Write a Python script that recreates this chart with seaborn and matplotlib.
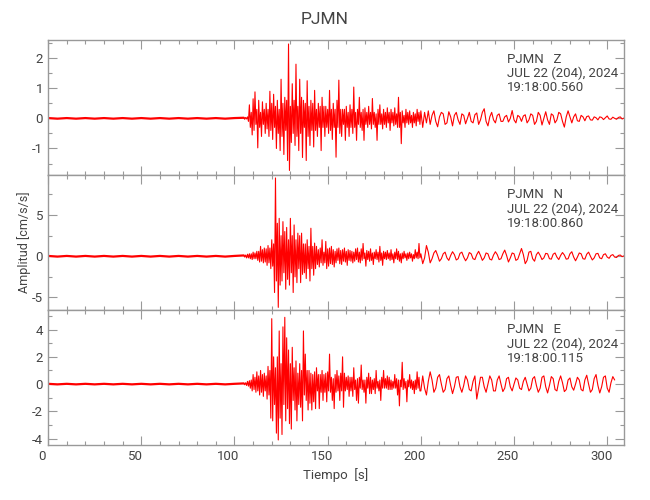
import numpy as np
import seaborn as sns
import matplotlib.pyplot as plt
from matplotlib.ticker import MultipleLocator
from matplotlib.transforms import ScaledTranslation

# Station / header text
station = "PJMN"
components = ["Z", "N", "E"]
fecha = "JUL 22 (204), 2024"
horas = ["19:18:00.560", "19:18:00.860", "19:18:00.115"]

# pre-event noise, one value every 5 s from t=0 to t=105
z_noise = [0.01, -0.01, 0.01, -0.01, 0.01, -0.01, 0.01, -0.01, 0.01, -0.01, 0.01,
           -0.01, 0.01, -0.01, 0.01, -0.01, 0.01, -0.01, 0.01, -0.01, 0.01, 0.02]
n_noise = [0.04, -0.04, 0.04, -0.04, 0.04, -0.04, 0.04, -0.04, 0.04, -0.04, 0.04,
           -0.04, 0.04, -0.04, 0.04, -0.04, 0.04, -0.04, 0.04, -0.04, 0.04, 0.1]
e_noise = [0.02, -0.02, 0.02, -0.02, 0.02, -0.02, 0.02, -0.02, 0.02, -0.02, 0.02,
           -0.02, 0.02, -0.02, 0.02, -0.02, 0.02, -0.02, 0.02, -0.02, 0.02, 0.05]

# strong motion, one value every 0.5 s from t=105 to t=199.5
z_strong = [0.02, -0.03, 0.03, -0.02, 0.05, -0.1,
            0.45, -0.3, 0.2, -0.55, 0.65, -0.4, 0.88, -0.2, 0.3, -0.98,
            0.6, -0.3, 0.2, -0.6, 0.55, -0.2, 0.3, -0.5, 0.5, -0.35,
            0.3, -0.6, 0.9, -0.4, 0.5, -0.7, 0.8, -0.3, 0.4, -1.0,
            0.6, -0.5, 0.3, -1.07, 1.3, -0.6, 0.5, -1.2, 0.7, -0.4,
            0.6, -1.4, 2.47, -1.73, 0.4, -0.8, 1.15, -0.5, 0.6, -0.9,
            1.8, -0.6, 0.4, -1.07, 1.3, -0.5, 0.7, -1.3, 0.6, -0.3,
            0.5, -1.4, 1.25, -0.6, 0.4, -0.9, 0.6, -0.4, 0.5, -0.95,
            0.93, -0.4, 0.3, -0.6, 0.5, -0.3, 0.4, -1.07, 0.7, -0.3,
            0.4, -0.6, 0.4, -0.3, 0.3, -0.5, 0.93, -0.4, 0.3, -0.7,
            0.5, -0.3, 0.3, -1.29, 0.6, -0.3, 1.27, -0.5, 0.3, -0.6,
            0.3, -0.2, 0.3, -0.73, 0.4, -0.3, 0.2, -0.6, 0.45, -0.3,
            0.3, -0.5, 1.04, -0.3, 0.2, -0.73, 0.3, -0.2, 0.7, -0.3,
            0.2, -0.4, 0.3, -0.73, 0.35, -0.2, 0.2, -0.3, 0.4, -0.2,
            0.2, -0.35, 0.66, -0.2, 0.2, -0.3, 0.15, -0.73, 0.3, -0.2,
            0.45, -0.2, 0.15, -0.35, 0.3, -0.2, 0.2, -0.3, 0.35, -0.15,
            0.2, -0.4, 0.3, -0.15, 0.2, -0.25, 0.35, -0.2, 0.15, -0.3,
            0.7, -0.3, 0.2, -0.84, 0.25, -0.15, 0.1, -0.3, 0.3, -0.15,
            0.2, -0.2, 0.25, -0.15, 0.1, -0.3, 0.2, -0.15, 0.15, -0.25,
            0.3, -0.1, 0.2, -0.2]

n_strong = [0.1, -0.1, 0.15, -0.2, 0.25, -0.2,
            0.3, -0.3, 0.3, -0.4, 0.5, -0.3, 0.4, -0.3, 0.6, -0.5,
            0.6, -0.7, 1.2, -0.6, 0.8, -0.8, 1.0, -0.7, 0.9, -1.1,
            1.3, -0.8, 1.0, -1.5, 2.0, -1.2, 1.5, -4.4, 9.5, -3.0,
            4.0, -6.2, 4.6, -3.5, 2.5, -3.0, 4.2, -2.0, 3.0, -4.0,
            3.5, -2.8, 2.0, -3.5, 4.6, -2.0, 2.5, -4.4, 3.8, -2.5,
            2.0, -3.2, 2.8, -1.5, 2.5, -3.2, 2.8, -2.2, 1.5, -2.0,
            1.5, -2.7, 2.0, -1.5, 1.2, -3.0, 3.4, -1.5, 1.2, -2.3,
            1.6, -1.5, 1.2, -1.0, 0.8, -1.3, 1.0, -0.8, 2.0, -1.1,
            0.5, -0.8, 1.8, -1.5, 0.9, -1.2, 1.0, -0.9, 1.2, -1.0,
            0.8, -1.3, 0.6, -0.8, 0.9, -0.5, 1.0, -0.9, 0.7, -1.0,
            0.8, -0.6, 1.0, -0.7, 0.6, -1.1, 0.8, -0.5, 0.7, -0.6,
            0.6, -0.8, 0.5, -0.6, 0.9, -0.4, 1.0, -0.7, 0.5, -0.8,
            0.9, -0.5, 1.55, -0.3, 0.4, -1.2, 0.7, -0.4, 0.6, -0.6,
            0.9, -0.5, 0.4, -1.0, 0.5, -0.3, 0.8, -0.4, 0.5, -0.7,
            1.2, -0.5, 0.4, -1.1, 0.6, -0.3, 0.5, -0.4, 0.7, -0.3,
            0.4, -0.5, 0.8, -0.4, 0.3, -0.8, 0.5, -0.3, 0.9, -0.4,
            0.6, -0.6, 0.3, -0.8, 0.4, -0.3, 0.6, -0.2, 0.3, -0.5,
            0.4, -0.3, 0.5, -0.2, 0.3, -0.6, 0.2, -0.3, 0.8, -0.2,
            0.5, -0.3, 1.55, -0.2]

e_strong = [0.05, -0.05, 0.1, -0.1, 0.2, -0.15,
            0.25, -0.3, 0.3, -0.5, 0.7, -0.4, 0.5, -0.6, 0.9, -0.5,
            0.6, -0.8, 1.0, -0.6, 0.7, -0.9, 0.8, -0.5, 0.6, -1.1,
            1.3, -0.8, 1.0, -2.5, 4.8, -2.7, 2.0, -1.5, 1.2, -3.6,
            2.0, -4.1, 3.9, -2.5, 1.5, -3.7, 4.2, -1.5, 4.9, -2.7,
            3.4, -1.8, 2.5, -2.9, 1.5, -3.3, 2.7, -1.2, 1.2, -1.9,
            1.7, -2.7, 0.8, -1.5, 1.5, -1.7, 1.0, -2.7, 3.9, -0.8,
            2.2, -1.2, 1.0, -1.9, 1.0, -1.4, 0.8, -1.9, 0.7, -1.3,
            0.9, -1.8, 1.2, -0.5, 0.7, -1.8, 0.7, -0.6, 1.0, -1.2,
            0.7, -0.6, 0.8, -1.3, 0.9, -0.5, 2.2, -0.6, 0.5, -1.2,
            0.4, -1.8, 0.7, -0.6, 1.0, -0.5, 0.6, -1.2, 0.8, -0.5,
            2.0, -1.7, 0.8, -0.5, 0.5, -0.4, 0.6, -0.9, 0.5, -0.5,
            0.5, -0.9, 1.2, -0.4, 0.3, -1.2, 0.4, -1.4, 0.5, -0.3,
            1.4, -0.4, 0.3, -0.6, 0.3, -1.4, 0.5, -0.3, 0.8, -0.7,
            0.5, -0.7, 0.3, -0.4, 0.4, -0.7, 1.0, -0.3, 0.2, -0.5,
            0.3, -1.2, 0.5, -0.3, 1.0, -0.3, 0.4, -0.3, 0.6, -0.4,
            0.5, -0.4, 0.3, -0.4, 0.2, -0.3, 0.7, -0.3, 0.4, -0.8,
            0.3, -1.6, 0.3, -0.2, 1.6, -0.4, 0.4, -0.3, 0.2, -1.3,
            0.3, -0.2, 0.7, -0.3, 0.3, -0.4, 0.2, -0.7, 0.3, -0.4,
            0.9, -0.3, 0.5, -0.5]

# coda, one value per second from t=200
z_tail = [0.25, -0.3, 0.2, -0.15, 0.25, -0.2,
          0.1, 0.25, -0.1, -0.28, 0.05, 0.2, 0.15, -0.2, -0.15, 0.22,
          0.05, -0.25, 0.1, 0.2, -0.05, -0.2, 0.15, 0.1, -0.18, 0.0,
          0.2, -0.1, -0.15, 0.12, 0.18, -0.2, -0.05, 0.2, 0.32, -0.1,
          -0.25, 0.05, 0.2, -0.05, -0.15, 0.1, 0.15, -0.1, -0.1, 0.05,
          0.1, -0.12, 0.0, 0.26, -0.05, -0.15, 0.1, 0.05, -0.1, 0.08,
          0.12, -0.15, -0.05, 0.15, 0.1, -0.2, -0.1, 0.2, 0.1, -0.22,
          0.0, 0.22, -0.05, -0.2, 0.15, 0.1, -0.15, -0.05, 0.2, 0.15,
          -0.1, -0.29, 0.05, 0.25, 0.05, -0.15, 0.05, 0.15, -0.08, -0.1,
          0.1, 0.05, -0.08, 0.06, 0.08, -0.05, -0.06, 0.05, 0.02, -0.05,
          0.05, 0.03, -0.04, 0.02, 0.08, -0.02, -0.03, 0.04, 0.0, -0.03,
          0.03, 0.05, -0.02, 0.01]

n_tail = [0.3, -0.9, -0.2, 1.3, 0.5, -0.8, -0.3,
          0.4, 0.7, 0.1, -0.6, -0.3, 0.3, 0.5, -0.2, -0.5, 0.1,
          0.55, 0.2, -0.45, -0.3, 0.35, 0.5, -0.1, -0.55, -0.2, 0.45,
          0.3, -0.3, -0.4, 0.2, 0.6, 0.1, -0.5, -0.2, 0.4, 0.3,
          -0.35, -0.45, 0.15, 0.55, 0.2, -0.4, -0.3, 0.3, 0.75, 0.1,
          -0.7, -0.2, 0.4, 0.3, -0.5, -0.35, 0.3, 0.94, 0.2, -0.9,
          -0.5, 0.5, 0.6, -0.3, -0.6, 0.2, 0.5, 0.1, -0.4, -0.2,
          0.35, 0.3, -0.3, -0.35, 0.25, 0.4, -0.1, -0.4, 0.1, 0.45,
          0.15, -0.35, -0.3, 0.3, 0.55, -0.1, -0.55, -0.1, 0.4, 0.3,
          -0.3, -0.35, 0.25, 0.5, 0.0, -0.45, -0.2, 0.3, 0.35, -0.2,
          -0.3, 0.2, 0.3, -0.1, -0.25, 0.1, 0.2, -0.1, -0.15, 0.1,
          0.15, -0.05, 0.05]

e_tail = [-0.5, 0.6, -0.3, -0.8, 0.2, 0.9, 0.3, -0.6,
          -0.3, 0.5, 0.7, 0.0, -0.6, -0.4, 0.4, 0.6, -0.1, -0.7,
          -0.2, 0.5, 0.55, -0.2, -0.6, -0.1, 0.6, 0.3, -0.4, -0.5,
          0.2, 0.6, -1.1, -0.3, 0.5, 0.5, -0.2, -0.6, 0.0, 0.6,
          0.3, -0.5, -0.5, 0.3, 0.6, 0.0, -0.55, -0.3, 0.4, 0.5,
          -0.2, -0.5, 0.0, 0.45, 0.3, -0.3, -0.4, 0.2, 0.5, 0.0,
          -0.5, -0.3, 0.4, 0.55, -0.1, -0.6, -0.3, 0.5, 0.6, -0.2,
          -0.65, -0.1, 0.55, 0.4, -0.4, -0.5, 0.2, 0.6, 0.1, -0.55,
          -0.4, 0.3, 0.45, -0.2, -0.45, 0.0, 0.5, 0.3, -0.4, -0.5,
          0.3, 0.65, 0.0, -0.6, -0.4, 0.4, 0.7, -0.1, -0.65, -0.2,
          0.5, 0.6, -0.3, -0.6, 0.1, 0.55, 0.3]

noise_list = [z_noise, n_noise, e_noise]
strong_list = [z_strong, n_strong, e_strong]
tail_list = [z_tail, n_tail, e_tail]
ylims = [(-1.87, 2.62), (-6.5, 9.9), (-4.47, 5.45)]
ymajor = [1, 5, 2]
yminor = [0.5, 2.5, 1]

sns.set_style("ticks")
plt.rcParams['font.family'] = ['Roboto', 'DejaVu Sans']
plt.rcParams['axes.unicode_minus'] = False
gris = "#444444"
eje = "#999999"
rojo = "#ff0000"

fig, axes = plt.subplots(3, 1, figsize=(6.5, 5), dpi=100, sharex=True)
fig.subplots_adjust(left=0.074, right=0.96, top=0.921, bottom=0.11, hspace=0)

for i, ax in enumerate(axes):
    t_noise = np.arange(0, 106, 5)
    sns.lineplot(x=t_noise, y=noise_list[i], ax=ax, color=rojo, linewidth=1.6,
                 estimator=None)
    t_sig = np.concatenate([105 + 0.5 * np.arange(len(strong_list[i])),
                            200 + np.arange(len(tail_list[i]))])
    v_sig = np.concatenate([strong_list[i], tail_list[i]])
    sns.lineplot(x=t_sig, y=v_sig, ax=ax, color=rojo, linewidth=0.8, estimator=None)
    ax.set_xlim(0, 309)
    ax.set_ylim(*ylims[i])
    ax.xaxis.set_major_locator(MultipleLocator(50))
    ax.xaxis.set_minor_locator(MultipleLocator(10))
    ax.yaxis.set_major_locator(MultipleLocator(ymajor[i]))
    ax.yaxis.set_minor_locator(MultipleLocator(yminor[i]))
    ax.tick_params(which="both", direction="in", top=True, right=True,
                   color=eje, labelcolor=gris, labelsize=9.5)
    ax.tick_params(which="major", length=6.5, width=0.8)
    ax.tick_params(which="minor", length=3.2, width=0.8)
    for s in ax.spines.values():
        s.set_color(eje)
        s.set_linewidth(1.0)
    ax.set_ylabel("")
    ax.text(0.797, 0.9, f"{station}   {components[i]}\n{fecha}\n{horas[i]}",
            transform=ax.transAxes, ha="left", va="top", fontsize=9.5,
            color=gris, linespacing=1.1)

axes[1].set_ylabel("Amplitud [cm/s/s]", color=gris, fontsize=9)
axes[1].yaxis.set_label_coords(-0.03, 0.5)
axes[2].set_xlabel("Tiempo  [s]", color=gris, fontsize=9.5)
fig.suptitle(station, y=0.975, fontsize=12.5, color=gris)

# x tick labels sit a little left of their ticks in the original
shift = ScaledTranslation(-6 / 100, 0, fig.dpi_scale_trans)
for tick in axes[2].xaxis.get_major_ticks():
    tick.label1.set_transform(tick.label1.get_transform() + shift)

fig.savefig("out.png", dpi=100)
